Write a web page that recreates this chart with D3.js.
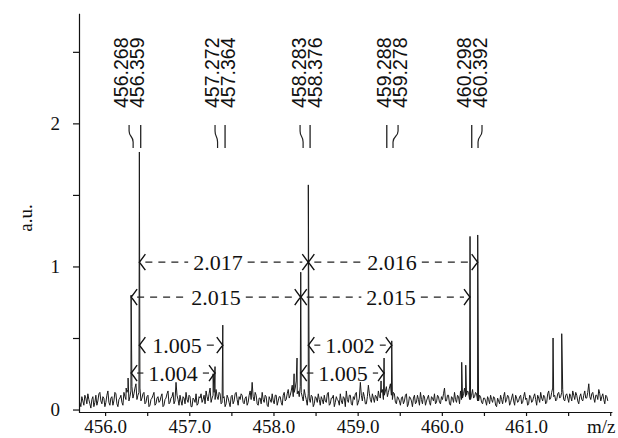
<!DOCTYPE html>
<html>
<head>
<meta charset="utf-8">
<script src="https://cdn.jsdelivr.net/npm/d3@7"></script>
<style>
  body { margin: 0; background: #fff; }
  svg { display: block; }
</style>
</head>
<body>
<div id="chart"></div>
<script>
// baseline noise, read left to right on a fixed m/z grid
var noiseStart = 455.70;
var noiseStep = 0.0238;
var noise = [
  0.05,0.09,0.03,0.08,0.11,0.04,0.07,0.02,0.10,0.06,
  0.12,0.04,0.08,0.05,0.13,0.03,0.09,0.06,0.11,0.02,
  0.08,0.05,0.12,0.07,0.14,0.09,0.16,0.11,0.18,0.10,
  0.15,0.08,0.12,0.05,0.10,0.03,0.08,0.12,0.04,0.09,
  0.06,0.11,0.03,0.08,0.13,0.05,0.09,0.04,0.19,0.07,
  0.10,0.03,0.08,0.12,0.05,0.09,0.02,0.07,0.11,0.04,
  0.08,0.05,0.10,0.13,0.06,0.15,0.08,0.12,0.14,0.07,
  0.11,0.05,0.09,0.04,0.08,0.02,0.10,0.06,0.12,0.03,
  0.07,0.10,0.04,0.09,0.05,0.13,0.19,0.06,0.10,0.03,
  0.08,0.12,0.05,0.09,0.02,0.07,0.11,0.04,0.10,0.06,
  0.09,0.03,0.12,0.07,0.14,0.10,0.17,0.12,0.20,0.13,
  0.16,0.09,0.14,0.07,0.11,0.05,0.09,0.04,0.08,0.11,
  0.03,0.07,0.10,0.05,0.12,0.04,0.08,0.02,0.09,0.06,
  0.11,0.04,0.08,0.13,0.05,0.10,0.03,0.07,0.12,0.05,
  0.19,0.06,0.09,0.04,0.17,0.07,0.11,0.05,0.09,0.13,
  0.08,0.14,0.10,0.16,0.12,0.18,0.07,0.11,0.04,0.08,
  0.03,0.09,0.06,0.11,0.04,0.08,0.02,0.10,0.05,0.07,
  0.12,0.04,0.09,0.06,0.10,0.03,0.08,0.11,0.05,0.09,
  0.04,0.07,0.15,0.06,0.10,0.03,0.08,0.12,0.05,0.09,
  0.13,0.08,0.15,0.10,0.12,0.07,0.14,0.09,0.11,0.06,
  0.09,0.04,0.08,0.03,0.07,0.10,0.05,0.08,0.02,0.06,
  0.10,0.04,0.12,0.07,0.09,0.05,0.11,0.03,0.08,0.06,
  0.10,0.05,0.12,0.08,0.04,0.09,0.06,0.11,0.03,0.08,
  0.12,0.06,0.09,0.05,0.13,0.08,0.15,0.10,0.07,0.12,
  0.09,0.14,0.06,0.11,0.05,0.09,0.13,0.07,0.10,0.04,
  0.11,0.06,0.13,0.08,0.18,0.07,0.12,0.05,0.10,0.14,
  0.06,0.11,0.04,0.09
];
// noise read half a grid step further on
var noiseMid = [
  0.02,0.06,0.10,0.04,0.07,0.01,0.09,0.05,0.03,0.11,
  0.06,0.09,0.02,0.10,0.05,0.08,0.03,0.12,0.04,0.07,
  0.10,0.03,0.09,0.12,0.06,0.13,0.08,0.15,0.07,0.12,
  0.06,0.11,0.04,0.09,0.02,0.07,0.10,0.03,0.08,0.05,
  0.09,0.02,0.07,0.11,0.04,0.08,0.12,0.06,0.10,0.03,
  0.06,0.09,0.04,0.07,0.10,0.02,0.08,0.05,0.03,0.09,
  0.11,0.07,0.04,0.09,0.11,0.05,0.10,0.07,0.09,0.12,
  0.04,0.08,0.02,0.10,0.05,0.09,0.04,0.11,0.07,0.09,
  0.11,0.05,0.08,0.03,0.10,0.07,0.09,0.12,0.04,0.08,
  0.04,0.07,0.10,0.03,0.09,0.05,0.06,0.10,0.03,0.09,
  0.05,0.10,0.06,0.11,0.08,0.13,0.09,0.15,0.11,0.09,
  0.12,0.06,0.10,0.03,0.08,0.10,0.02,0.09,0.05,0.07,
  0.09,0.04,0.06,0.11,0.03,0.08,0.10,0.05,0.07,0.03,
  0.06,0.09,0.02,0.07,0.10,0.04,0.09,0.11,0.03,0.08,
  0.10,0.12,0.04,0.09,0.11,0.05,0.08,0.10,0.06,0.09,
  0.12,0.07,0.13,0.09,0.15,0.10,0.12,0.05,0.09,0.06,
  0.08,0.04,0.10,0.02,0.09,0.06,0.08,0.04,0.10,0.03,
  0.07,0.10,0.03,0.08,0.05,0.09,0.06,0.04,0.10,0.05,
  0.09,0.11,0.06,0.10,0.04,0.09,0.05,0.07,0.10,0.04,
  0.07,0.11,0.09,0.13,0.07,0.10,0.08,0.12,0.06,0.10,
  0.05,0.08,0.06,0.09,0.04,0.07,0.09,0.03,0.08,0.04,
  0.07,0.09,0.05,0.10,0.03,0.08,0.06,0.10,0.05,0.09,
  0.04,0.09,0.07,0.03,0.10,0.05,0.09,0.07,0.10,0.05,
  0.08,0.10,0.04,0.11,0.07,0.12,0.09,0.06,0.11,0.08,
  0.12,0.07,0.10,0.08,0.11,0.06,0.10,0.12,0.06,0.09,
  0.07,0.10,0.08,0.12,0.09,0.11,0.08,0.10,0.07,0.11,
  0.09,0.07,0.10,0.06
];

// peaks (position as drawn on the m/z axis, height in a.u.)
var peakMz     = [456.250,456.273,456.309,456.407,457.283,457.306,457.398,
                  458.245,458.280,458.324,458.414,459.278,459.314,459.405,
                  460.236,460.284,460.335,460.426,461.321,461.424];
var peakHeight = [0.15,0.22,0.80,1.80,0.25,0.30,0.59,
                  0.25,0.36,0.96,1.57,0.20,0.36,0.48,
                  0.33,0.31,1.21,1.22,0.50,0.53];

// peak labels above the spectrum
var labelTop    = ["456.268","457.272","458.283","459.288","460.298"];
var labelBottom = ["456.359","457.364","458.376","459.278","460.392"];
var labelMz     = [456.280,457.366,458.393,459.403,460.353];
var markStraight = [456.423,457.425,458.435,459.346,460.355];
var markBentTop  = [456.285,457.306,458.316,459.480,460.477];
var markBentBot  = [456.333,457.336,458.352,459.420,460.430];

// spacing arrows
var arrowFrom  = [456.407,458.414,456.309,458.324,456.407,458.414,456.309,458.324];
var arrowTo    = [458.414,460.426,458.324,460.335,457.398,459.405,457.306,459.314];
var arrowLevel = [1.03,1.03,0.786,0.786,0.45,0.45,0.255,0.255];
var arrowText  = ["2.017","2.016","2.015","2.015","1.005","1.002","1.004","1.005"];
var arrowTextMz = [457.34,459.409,457.318,459.397,456.855,458.91,456.808,458.827];

var yTicks = [0, 0.5, 1, 1.5, 2, 2.5];
var xTicks = [456, 456.5, 457, 457.5, 458, 458.5, 459, 459.5, 460, 460.5, 461, 461.5, 462];

function init() {
  var w = 618, h = 438;
  var svg = d3.select("#chart").append("svg").attr("width", w).attr("height", h);

  var x = d3.scaleLinear().domain([455.69, 462.02]).range([79, 611.9]);
  var y = d3.scaleLinear().domain([-0.02, 2.77]).range([412.4, 13.2]);

  // spectrum: noise grid + peaks, merged in m/z order
  var pts = noise.map(function (v, i) { return [noiseStart + i * noiseStep, v]; });
  noiseMid.forEach(function (v, i) { pts.push([noiseStart + (i + 0.5) * noiseStep, v]); });
  peakMz.forEach(function (m, i) { pts.push([m, peakHeight[i]]); });
  pts.sort(function (a, b) { return a[0] - b[0]; });

  var line = d3.line().x(function (d) { return x(d[0]); }).y(function (d) { return y(d[1]); });
  svg.append("path")
    .attr("d", line(pts))
    .attr("fill", "none")
    .attr("stroke", "#1a1a1a")
    .attr("stroke-width", 1);

  // axes
  var xAxis = d3.axisBottom(x)
    .tickValues(xTicks)
    .tickSize(4)
    .tickSizeOuter(0)
    .tickPadding(4)
    .tickFormat(function (d) { return Number.isInteger(d) && d < 462 ? d3.format(".1f")(d) : ""; });
  var gx = svg.append("g").attr("transform", "translate(0,412)").call(xAxis);

  var yAxis = d3.axisLeft(y)
    .tickValues(yTicks)
    .tickSize(6)
    .tickSizeOuter(0)
    .tickPadding(13)
    .tickFormat(function (d) { return Number.isInteger(d) ? d : ""; });
  var gy = svg.append("g").attr("transform", "translate(79,0)").call(yAxis);

  [gx, gy].forEach(function (g) {
    g.selectAll("path, line").attr("stroke", "#111").attr("stroke-width", 1.2);
    g.selectAll("text")
      .attr("fill", "#111")
      .style("font-family", "Liberation Serif, serif")
      .style("font-size", "19px");
  });

  svg.append("text")
    .attr("transform", "translate(32,218) rotate(-90)")
    .attr("text-anchor", "middle")
    .style("font-family", "Liberation Serif, serif")
    .style("font-size", "19px")
    .attr("fill", "#111")
    .text("a.u.");

  svg.append("text")
    .attr("x", 587)
    .attr("y", 433)
    .style("font-family", "Liberation Serif, serif")
    .style("font-size", "19px")
    .attr("fill", "#111")
    .text("m/z");

  // rotated peak labels with their connector marks
  var lab = svg.append("g")
    .style("font-family", "Liberation Sans, Arial, sans-serif")
    .style("font-size", "19.5px")
    .attr("fill", "#111");
  labelMz.forEach(function (m, i) {
    var cx = x(m);
    [[labelTop[i], cx - 8], [labelBottom[i], cx + 8]].forEach(function (t) {
      lab.append("text")
        .attr("transform", "translate(" + (t[1] + 7) + ",108) rotate(-90)")
        .text(t[0]);
    });
    svg.append("line")
      .attr("x1", x(markStraight[i])).attr("x2", x(markStraight[i]))
      .attr("y1", 125).attr("y2", 148)
      .attr("stroke", "#222").attr("stroke-width", 1.3);
    var xt = x(markBentTop[i]), xb = x(markBentBot[i]);
    svg.append("path")
      .attr("d", "M" + xt + ",125 L" + xt + ",131 C" + xt + ",137 " + xb + ",136 " + xb + ",142 L" + xb + ",148")
      .attr("fill", "none")
      .attr("stroke", "#222")
      .attr("stroke-width", 1.2);
  });

  // spacing arrows with dashed shafts
  var arr = svg.append("g");
  arrowFrom.forEach(function (m, i) {
    var x1 = x(m), x2 = x(arrowTo[i]), yy = y(arrowLevel[i]), tx = x(arrowTextMz[i]);
    var t = arr.append("text")
      .attr("x", tx).attr("y", yy).attr("dy", "0.35em")
      .attr("text-anchor", "middle")
      .style("font-family", "Liberation Serif, serif")
      .style("font-size", "22px")
      .attr("fill", "#111")
      .text(arrowText[i]);
    var tw = t.node().getComputedTextLength();
    var left = tx - tw / 2 - 5, right = tx + tw / 2 + 5;
    if (left - (x1 + 6) > 4) {
      arr.append("line").attr("x1", x1 + 6).attr("x2", left).attr("y1", yy).attr("y2", yy)
        .attr("stroke", "#222").attr("stroke-width", 1.2).attr("stroke-dasharray", "7,6");
    }
    if ((x2 - 6) - right > 4) {
      arr.append("line").attr("x1", right).attr("x2", x2 - 6).attr("y1", yy).attr("y2", yy)
        .attr("stroke", "#222").attr("stroke-width", 1.2).attr("stroke-dasharray", "7,6");
    }
    arr.append("path")
      .attr("d", "M" + (x1 + 6) + "," + (yy - 8) + " Q" + (x1 + 1) + "," + (yy - 1) + " " + x1 + "," + yy +
                 " Q" + (x1 + 1) + "," + (yy + 1) + " " + (x1 + 6) + "," + (yy + 8))
      .attr("fill", "none").attr("stroke", "#111").attr("stroke-width", 1.4);
    arr.append("path")
      .attr("d", "M" + (x2 - 6) + "," + (yy - 8) + " Q" + (x2 - 1) + "," + (yy - 1) + " " + x2 + "," + yy +
                 " Q" + (x2 - 1) + "," + (yy + 1) + " " + (x2 - 6) + "," + (yy + 8))
      .attr("fill", "none").attr("stroke", "#111").attr("stroke-width", 1.4);
  });
}

window.onload = init;
</script>
</body>
</html>
